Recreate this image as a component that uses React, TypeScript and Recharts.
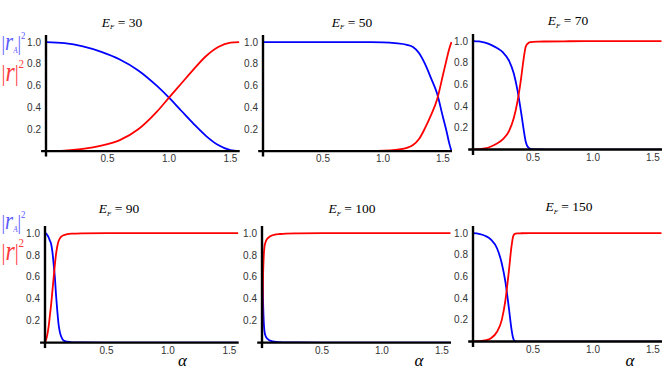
import { LineChart, Line, XAxis, YAxis, ReferenceLine } from "recharts";

// α values (rad) and the two reflection probabilities
const alpha30 = [0, 0.15, 0.3, 0.45, 0.6, 0.75, 0.9, 1.0, 1.1, 1.2, 1.3, 1.4, 1.5, 1.5708];
const rA30 = [1, 0.99, 0.96, 0.91, 0.84, 0.74, 0.6, 0.49, 0.37, 0.25, 0.14, 0.055, 0.008, 0];
const r30 = [0, 0.004, 0.02, 0.05, 0.1, 0.2, 0.36, 0.49, 0.62, 0.75, 0.87, 0.955, 0.995, 1];

const alpha50 = [0, 0.3, 0.6, 0.9, 1.0, 1.1, 1.2, 1.25, 1.3, 1.35, 1.4, 1.45, 1.5, 1.53, 1.55, 1.5708];
const rA50 = [1, 1, 1, 0.999, 0.997, 0.99, 0.975, 0.955, 0.9, 0.8, 0.67, 0.53, 0.31, 0.18, 0.08, 0];
const r50 = [0, 0, 0, 0.001, 0.003, 0.01, 0.03, 0.055, 0.11, 0.21, 0.33, 0.47, 0.7, 0.84, 0.93, 1];

const alpha70 = [0, 0.05, 0.1, 0.15, 0.2, 0.25, 0.3, 0.34, 0.37, 0.4, 0.42, 0.44, 0.46, 0.48, 0.5, 0.55, 0.6, 0.8, 1.0, 1.2, 1.4, 1.5708];
const rA70 = [1, 0.997, 0.985, 0.965, 0.935, 0.895, 0.82, 0.7, 0.55, 0.35, 0.2, 0.07, 0.02, 0.006, 0.002, 0.001, 0, 0, 0, 0, 0, 0];
const r70 = [0, 0.003, 0.01, 0.028, 0.055, 0.095, 0.17, 0.29, 0.44, 0.65, 0.82, 0.95, 0.98, 0.99, 0.993, 0.995, 0.996, 0.998, 0.999, 1, 1, 1];

const alpha90 = [0, 0.01, 0.02, 0.03, 0.04, 0.05, 0.06, 0.07, 0.08, 0.09, 0.1, 0.11, 0.12, 0.13, 0.15, 0.18, 0.22, 0.3, 0.5, 0.8, 1.1, 1.4, 1.5708];
const rA90 = [1, 0.995, 0.98, 0.96, 0.93, 0.9, 0.83, 0.72, 0.6, 0.43, 0.29, 0.17, 0.1, 0.06, 0.02, 0.008, 0.003, 0.001, 0, 0, 0, 0, 0];
const r90 = [0, 0.03, 0.08, 0.15, 0.25, 0.35, 0.47, 0.59, 0.71, 0.81, 0.88, 0.925, 0.95, 0.965, 0.98, 0.99, 0.995, 0.998, 1, 1, 1, 1, 1];

const alpha100 = [0, 0.002, 0.005, 0.01, 0.015, 0.02, 0.03, 0.045, 0.06, 0.08, 0.1, 0.15, 0.2, 0.3, 0.5, 0.8, 1.1, 1.4, 1.5708];
const rA100 = [1, 0.85, 0.6, 0.33, 0.18, 0.11, 0.06, 0.035, 0.022, 0.014, 0.009, 0.004, 0.002, 0.001, 0, 0, 0, 0, 0];
const r100 = [0, 0.15, 0.4, 0.66, 0.8, 0.87, 0.92, 0.95, 0.965, 0.977, 0.984, 0.992, 0.996, 0.998, 1, 1, 1, 1, 1];

const alpha150 = [0, 0.05, 0.1, 0.15, 0.2, 0.24, 0.27, 0.3, 0.32, 0.335, 0.345, 0.355, 0.37, 0.4, 0.5, 0.7, 0.9, 1.1, 1.3, 1.5708];
const rA150 = [1, 0.993, 0.975, 0.94, 0.86, 0.72, 0.55, 0.3, 0.12, 0.03, 0.005, 0.001, 0, 0, 0, 0, 0, 0, 0, 0];
const r150 = [0, 0.003, 0.01, 0.03, 0.09, 0.2, 0.38, 0.66, 0.87, 0.97, 0.99, 0.995, 0.997, 0.998, 0.999, 1, 1, 1, 1, 1];

const energies = [30, 50, 70, 90, 100, 150];
const alphas = [alpha30, alpha50, alpha70, alpha90, alpha100, alpha150];
const rAs = [rA30, rA50, rA70, rA90, rA100, rA150];
const rs = [r30, r50, r70, r90, r100, r150];

const xTicks = [0.5, 1.0, 1.5];
const yTicks = [0.2, 0.4, 0.6, 0.8, 1.0];

// pixel geometry: origin x, px per unit alpha, origin y, px per unit value, title centre/baseline
const layout = [
  { ox: 46, ux: 123, oy: 151, uy: 109, tx: 122, ty: 26.5 },
  { ox: 263, ux: 120, oy: 151, uy: 109, tx: 352, ty: 26.5 },
  { ox: 473, ux: 120, oy: 150, uy: 108.5, tx: 568, ty: 25 },
  { ox: 45, ux: 123, oy: 343, uy: 109.5, tx: 119, ty: 213 },
  { ox: 262, ux: 120, oy: 343, uy: 109.5, tx: 352, ty: 213 },
  { ox: 473, ux: 120, oy: 342, uy: 108.5, tx: 569, ty: 211 },
];

const X_MAX = 1.575;
const Y_MAX = 1.065;
const YW = 40;
const tickFont = { fontSize: 10, fill: "#333", fontFamily: "Liberation Sans Narrow, Arial Narrow, Liberation Sans, sans-serif" };
const serif = "Liberation Serif, Times New Roman, serif";
const blueLbl = "#5a5aff";
const redLbl = "#ff3a3a";

function Panel({ i }: { i: number }) {
  const g = layout[i];
  const data = alphas[i].map((a, k) => ({ a, rA: rAs[i][k], r: rs[i][k] }));
  const pw = X_MAX * g.ux;
  const ph = Y_MAX * g.uy;
  const w = YW + pw + 5;
  const h = 5 + ph + 20 + 5;
  return (
    <div style={{ position: "absolute", left: g.ox - YW, top: g.oy - ph - 5 }}>
      <LineChart width={w} height={h} data={data} margin={{ top: 5, right: 5, left: 0, bottom: 5 }}>
        <XAxis
          dataKey="a"
          type="number"
          domain={[0, X_MAX]}
          allowDataOverflow
          ticks={xTicks}
          tickFormatter={(v: number) => v.toFixed(1)}
          tick={tickFont}
          tickLine={false}
          axisLine={false}
          tickSize={2}
          tickMargin={2}
          height={20}
        />
        <YAxis
          type="number"
          domain={[0, Y_MAX]}
          allowDataOverflow
          ticks={yTicks}
          tickFormatter={(v: number) => v.toFixed(1)}
          tick={tickFont}
          tickLine={false}
          axisLine={false}
          tickSize={3}
          tickMargin={2}
          width={YW}
        />
        <Line dataKey="rA" type="monotone" stroke="#0000ff" strokeWidth={1.8} dot={false} isAnimationActive={false} />
        <Line dataKey="r" type="monotone" stroke="#ff0000" strokeWidth={1.8} dot={false} isAnimationActive={false} />
        <ReferenceLine
          segment={[{ x: -0.04, y: 0 }, { x: X_MAX, y: 0 }]}
          stroke="#000"
          strokeWidth={2.4}
          ifOverflow="visible"
        />
        <ReferenceLine
          segment={[{ x: 0, y: -0.05 }, { x: 0, y: Y_MAX }]}
          stroke="#000"
          strokeWidth={2.4}
          ifOverflow="visible"
        />
      </LineChart>
    </div>
  );
}

// stacked y legend: |r_A|^2 above |r|^2
function YLabels({ dy }: { dy: number }) {
  return (
    <g fontFamily={serif}>
      <text transform={`translate(1.5, ${49.5 + dy}) scale(0.8, 1)`} fill={blueLbl}>
        <tspan fontSize={22}>|</tspan>
        <tspan fontSize={26} fontStyle="italic">r</tspan>
        <tspan fontSize={9} fontStyle="italic" dy={3}>A</tspan>
        <tspan fontSize={22} dy={-3}>|</tspan>
        <tspan fontSize={11} dy={-11}>2</tspan>
      </text>
      <text transform={`translate(1.5, ${80.5 + dy}) scale(0.85, 1)`} fill={redLbl}>
        <tspan fontSize={23}>|</tspan>
        <tspan fontSize={28} fontStyle="italic">r</tspan>
        <tspan fontSize={23}>|</tspan>
        <tspan fontSize={13} dy={-13}>2</tspan>
      </text>
    </g>
  );
}

function Texts() {
  return (
    <svg width={667} height={375} style={{ position: "absolute", left: 0, top: 0, pointerEvents: "none" }}>
      {energies.map((e, i) => (
        <text key={"t" + i} x={layout[i].tx} y={layout[i].ty} textAnchor="middle" fontFamily={serif} fontSize={13.5} fill="#000" style={{ whiteSpace: "pre" }}>
          <tspan fontStyle="italic">E</tspan>
          <tspan fontStyle="italic" fontSize={7} dy={2.5}>F</tspan>
          <tspan dy={-2.5}>{" = " + e}</tspan>
        </text>
      ))}
      <YLabels dy={0} />
      <YLabels dy={179} />
      {[182.5, 419, 630].map((x, k) => (
        <text key={"a" + k} x={x} y={366} textAnchor="middle" fontFamily={serif} fontSize={17} fontStyle="italic" fill="#000">
          α
        </text>
      ))}
    </svg>
  );
}

export default function App() {
  return (
    <div style={{ position: "absolute", left: 0, top: 0, width: 667, height: 375, background: "#fff", overflow: "hidden" }}>
      {energies.map((_, i) => (
        <Panel key={"p" + i} i={i} />
      ))}
      <Texts />
    </div>
  );
}
